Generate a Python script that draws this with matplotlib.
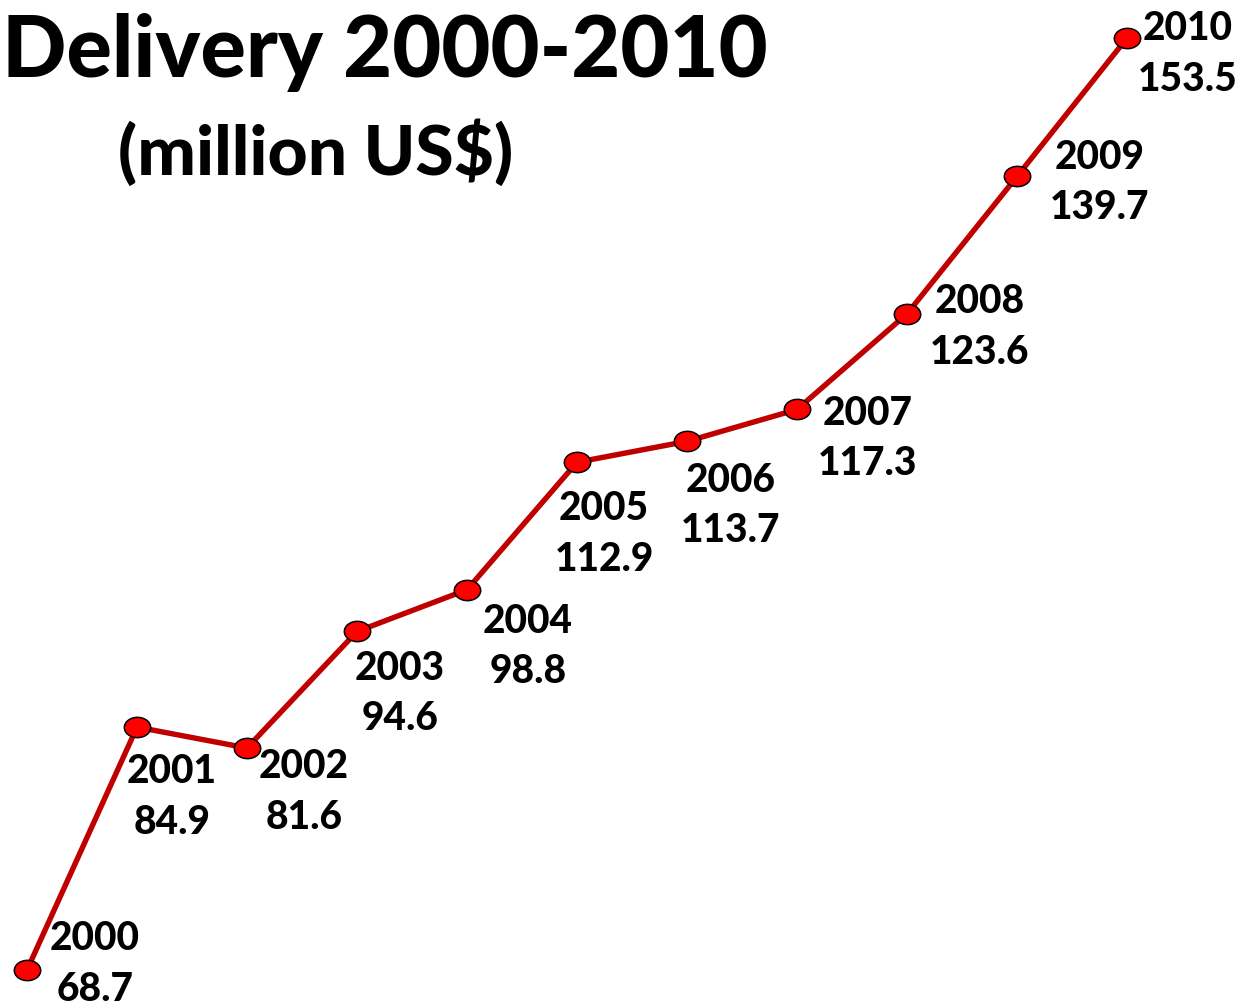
import matplotlib.pyplot as plt
from matplotlib.path import Path
from matplotlib.transforms import Affine2D

# data
years = [2000, 2001, 2002, 2003, 2004, 2005, 2006, 2007, 2008, 2009, 2010]
delivery = [68.7, 84.9, 81.6, 94.6, 98.8, 112.9, 113.7, 117.3, 123.6, 139.7, 153.5]
# height at which each point is drawn in the original (million US$ on its implicit scale)
drawn_level = [68.7, 90.8, 88.9, 99.5, 103.3, 114.9, 116.8, 119.7, 128.4, 140.9, 153.5]

# label offsets from each point, in pixels
label_off = [(68, 6), (35, -70), (57, -44), (43, -62), (61, -57), (27, -72),
             (44, -64), (71, -29), (73, -13), (83, -6), (61, -16)]

plt.rcParams['font.family'] = ['Lato', 'DejaVu Sans']

fig = plt.figure(figsize=(12.41, 10.08), dpi=100)
ax = fig.add_axes([0, 0, 1, 1])
ax.set_xlim(2000 - 27 / 110, 2000 + (1241 - 27) / 110)
ax.set_ylim(68.7 - 38 / 10.99, 153.5 + 38 / 10.99)
ax.axis('off')

ellipse = Path.unit_circle().transformed(Affine2D().scale(1.3, 1.0))
ax.plot(years, drawn_level, color='#C00000', lw=3.9, marker=ellipse,
        markersize=19, markerfacecolor='#FF0000', markeredgecolor='black',
        markeredgewidth=1.1, zorder=3)

for x, y, v, off in zip(years, drawn_level, delivery, label_off):
    ax.annotate(f'{x}\n{v}', (x, y), xytext=off, textcoords='offset pixels',
                ha='center', va='center', multialignment='center',
                fontsize=28, fontweight='black', linespacing=1.45)

fig.text(0.002, 1 - 52 / 1008, 'Delivery 2000-2010', ha='left', va='center',
         fontsize=61, fontweight='black')
fig.text(118 / 1241, 1 - 153 / 1008, '(million US$)', ha='left', va='center',
         fontsize=50, fontweight='black')

fig.savefig('out.png', dpi=100, facecolor='white')
